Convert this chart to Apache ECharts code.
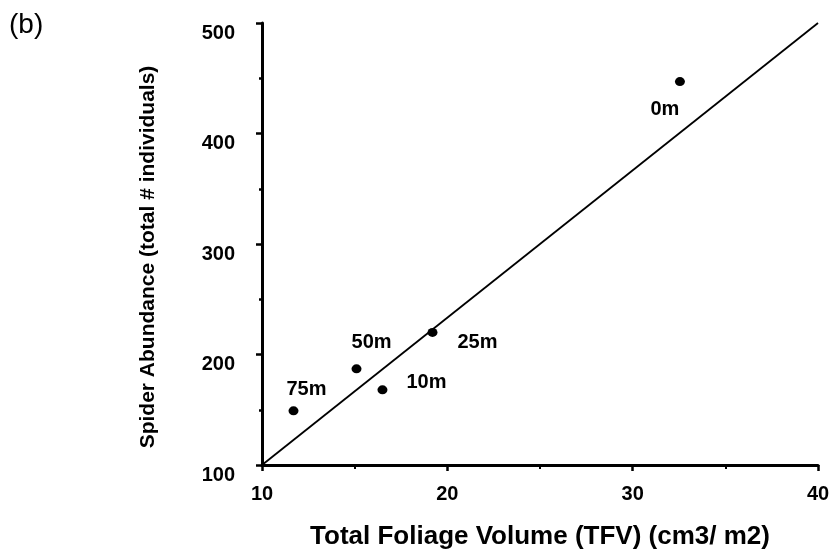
<!DOCTYPE html>
<html>
<head>
<meta charset="utf-8">
<script src="https://cdn.jsdelivr.net/npm/echarts@6/dist/echarts.min.js"></script>
<style>
  html, body { margin: 0; padding: 0; background: #fff; }
  #chart { width: 833px; height: 557px; }
</style>
</head>
<body>
<div id="chart"></div>
<script>
// Distance from edge (m) and measured foliage volume / spider counts
const siteLabels = ['0m', '25m', '50m', '10m', '75m'];
const foliageVolume = [32.55, 19.2, 15.1, 16.5, 11.7];
const spiderCount = [447, 220, 187, 168, 149];
// Label offsets (px) next to each site's point
const labelOffsets = [[-15, 28], [45, 10], [15, -26], [44, -7], [13, -21]];
// Fitted line end points
const fitX = [10, 40];
const fitY = [100, 500];

const FONT = '"Liberation Sans", Arial, Helvetica, sans-serif';

const chart = echarts.init(document.getElementById('chart'));

const points = siteLabels.map((name, i) => ({
  name: name,
  value: [foliageVolume[i], spiderCount[i]],
  label: { offset: labelOffsets[i] }
}));

chart.setOption({
  animation: false,
  backgroundColor: '#ffffff',
  grid: { left: 262, right: 15, top: 23, bottom: 92, containLabel: false },
  xAxis: {
    type: 'value',
    min: 10, max: 40, interval: 10,
    axisLine: { show: true, onZero: false, lineStyle: { color: '#000', width: 3 } },
    axisTick: { show: true, inside: false, length: 6, lineStyle: { color: '#000', width: 2.5 } },
    minorTick: { show: true, splitNumber: 2, length: 4, lineStyle: { color: '#000', width: 2 } },
    splitLine: { show: false },
    axisLabel: { color: '#000', fontFamily: FONT, fontWeight: 'bold', fontSize: 20, margin: 19 }
  },
  yAxis: {
    type: 'value',
    min: 100, max: 500, interval: 100,
    axisLine: { show: true, onZero: false, lineStyle: { color: '#000', width: 3 } },
    axisTick: { show: true, inside: false, length: 6, lineStyle: { color: '#000', width: 2.5 } },
    minorTick: { show: true, splitNumber: 2, length: 3, lineStyle: { color: '#000', width: 2.5 } },
    splitLine: { show: false },
    axisLabel: { color: '#000', fontFamily: FONT, fontWeight: 'bold', fontSize: 20, margin: 27, verticalAlign: 'top' }
  },
  series: [
    {
      type: 'line',
      data: [[fitX[0], fitY[0]], [fitX[1], fitY[1]]],
      symbol: 'none',
      lineStyle: { color: '#000', width: 1.8 },
      silent: true,
      z: 2
    },
    {
      type: 'scatter',
      data: points,
      symbol: 'circle',
      symbolSize: [10, 9],
      itemStyle: { color: '#000', opacity: 1 },
      label: {
        show: true,
        position: 'inside',
        formatter: '{b}',
        color: '#000',
        opacity: 1,
        fontFamily: FONT,
        fontWeight: 'bold',
        fontSize: 20
      },
      z: 3
    }
  ],
  graphic: [
    {
      type: 'text',
      left: 9, top: 11,
      style: { text: '(b)', fontFamily: FONT, fontSize: 28, fill: '#000' }
    },
    {
      type: 'text',
      x: 540, y: 537,
      style: {
        text: 'Total Foliage Volume (TFV) (cm3/ m2)',
        fontFamily: FONT, fontWeight: 'bold', fontSize: 26, fill: '#000',
        align: 'center', verticalAlign: 'middle'
      }
    },
    {
      type: 'text',
      x: 148, y: 257,
      rotation: Math.PI / 2,
      style: {
        text: 'Spider Abundance (total # individuals)',
        fontFamily: FONT, fontWeight: 'bold', fontSize: 21, fill: '#000',
        align: 'center', verticalAlign: 'middle'
      }
    }
  ]
});
</script>
</body>
</html>
